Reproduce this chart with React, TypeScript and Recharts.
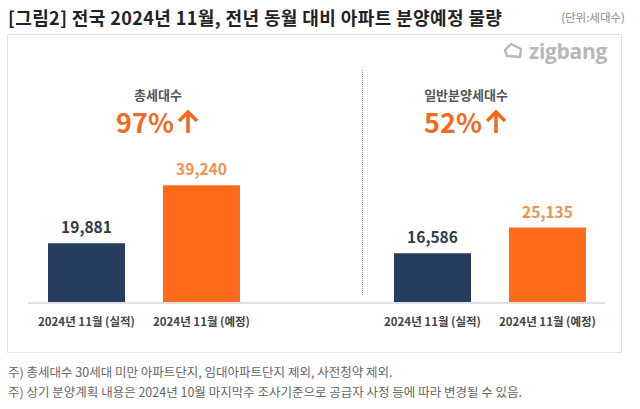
import React from "react";
import { BarChart, Bar, XAxis, YAxis, Cell, LabelList } from "recharts";

const periods = ["2024년 11월 (실적)", "2024년 11월 (예정)"];
const totalUnits = [19881, 39240];
const generalUnits = [16586, 25135];
const panelTitles = ["총세대수", "일반분양세대수"];
const growthRates = ["97%", "52%"];
const footnotes = [
  "주) 총세대수 30세대 미만 아파트단지, 임대아파트단지 제외, 사전청약 제외.",
  "주) 상기 분양계획 내용은 2024년 10월 마지막주 조사기준으로 공급자 사정 등에 따라 변경될 수 있음.",
];

const FONT = "'Noto Sans CJK KR', 'Noto Sans', sans-serif";
const BAR_COLORS = ["#263d5f", "#ff6a1a"];
const LABEL_COLORS = ["#2f3a4a", "#f2914f"];
const ACCENT = "#f26a1f";
const Y_MAX = 80000;

function toRows(values: number[]) {
  return periods.map((period, i) => ({ period, value: values[i] }));
}

function ValueLabel(props: any) {
  const { x, y, width, value, index } = props;
  return (
    <text
      x={x + width / 2}
      y={y - 10}
      textAnchor="middle"
      fill={LABEL_COLORS[index]}
      fontSize={15.5}
      fontWeight={700}
      fontFamily={FONT}
    >
      {Number(value).toLocaleString("en-US")}
    </text>
  );
}

function Panel({ values, left }: { values: number[]; left: number }) {
  return (
    <div style={{ position: "absolute", left, top: 63 }}>
      <BarChart
        width={230}
        height={280}
        data={toRows(values)}
        margin={{ top: 0, right: 0, bottom: 0, left: 0 }}
      >
        <XAxis
          dataKey="period"
          axisLine={false}
          tickLine={false}
          tickMargin={9}
          height={40}
          interval={0}
          tick={{ fill: "#444", fontSize: 11.5, fontWeight: 600, fontFamily: FONT }}
        />
        <YAxis hide domain={[0, Y_MAX]} />
        <Bar dataKey="value" barSize={77} isAnimationActive={false}>
          {values.map((_, i) => (
            <Cell key={i} fill={BAR_COLORS[i]} />
          ))}
          <LabelList dataKey="value" content={ValueLabel} />
        </Bar>
      </BarChart>
    </div>
  );
}

function Headline({ idx, cx }: { idx: number; cx: number }) {
  return (
    <>
      <div
        style={{
          position: "absolute",
          left: cx - 100,
          width: 200,
          top: 87,
          textAlign: "center",
          fontSize: 13,
          lineHeight: "16px",
          fontWeight: 600,
          color: "#555",
        }}
      >
        {panelTitles[idx]}
      </div>
      <div
        style={{
          position: "absolute",
          left: cx - 100,
          width: 200,
          top: 107,
          display: "flex",
          justifyContent: "center",
          alignItems: "center",
          gap: 2,
          fontSize: 27,
          fontWeight: 700,
          color: ACCENT,
          lineHeight: "30px",
        }}
      >
        <span>{growthRates[idx]}</span>
        <svg width={24} height={26} viewBox="0 0 24 26">
          <path
            d="M12 24 L12 4 M3 12 L12 3 L21 12"
            fill="none"
            stroke={ACCENT}
            strokeWidth={3.6}
            strokeLinejoin="miter"
          />
        </svg>
      </div>
    </>
  );
}

export default function App() {
  return (
    <div
      style={{
        position: "fixed",
        left: 0,
        top: 0,
        width: 640,
        height: 409,
        background: "#fff",
        fontFamily: FONT,
        overflow: "hidden",
      }}
    >
      <div
        style={{
          position: "absolute",
          left: 8,
          top: 5,
          fontSize: 18,
          letterSpacing: 0.4,
          lineHeight: "24px",
          fontWeight: 700,
          color: "#222",
          whiteSpace: "nowrap",
        }}
      >
        [그림2] 전국 2024년 11월, 전년 동월 대비 아파트 분양예정 물량
      </div>
      <div
        style={{
          position: "absolute",
          right: 15,
          top: 9,
          fontSize: 11.5,
          color: "#888",
        }}
      >
        (단위:세대수)
      </div>

      <div
        style={{
          position: "absolute",
          left: 7,
          top: 34,
          width: 615,
          height: 319,
          border: "1px solid #e3e3e3",
          boxSizing: "border-box",
        }}
      />

      <div
        style={{
          position: "absolute",
          left: 502,
          top: 37,
          display: "flex",
          alignItems: "center",
          gap: 5,
          color: "#b8b8b8",
        }}
      >
        <svg width={22} height={20} viewBox="0 0 22 20">
          <path
            d="M3 9 L9 3 L19 8 L18 16 L5 15 Z"
            fill="none"
            stroke="#b8b8b8"
            strokeWidth={2.4}
            strokeLinejoin="round"
          />
        </svg>
        <span style={{ fontFamily: "'Open Sans', sans-serif", fontSize: 21, fontWeight: 700, letterSpacing: -0.3 }}>
          zigbang
        </span>
      </div>

      <Headline idx={0} cx={158} />
      <Headline idx={1} cx={466} />

      <div
        style={{
          position: "absolute",
          left: 362,
          top: 70,
          height: 225,
          borderLeft: "1px dotted #9a9a9a",
        }}
      />

      <Panel values={totalUnits} left={29} />
      <Panel values={generalUnits} left={375} />

      <div
        style={{
          position: "absolute",
          left: 28,
          top: 302,
          width: 577,
          height: 2,
          background: "#e2e2e2",
        }}
      />

      {footnotes.map((note, i) => (
        <div
          key={i}
          style={{
            position: "absolute",
            left: 8,
            top: 364 + i * 20,
            fontSize: 12.5,
            lineHeight: "16px",
            color: "#666",
            whiteSpace: "nowrap",
          }}
        >
          {note}
        </div>
      ))}
    </div>
  );
}
